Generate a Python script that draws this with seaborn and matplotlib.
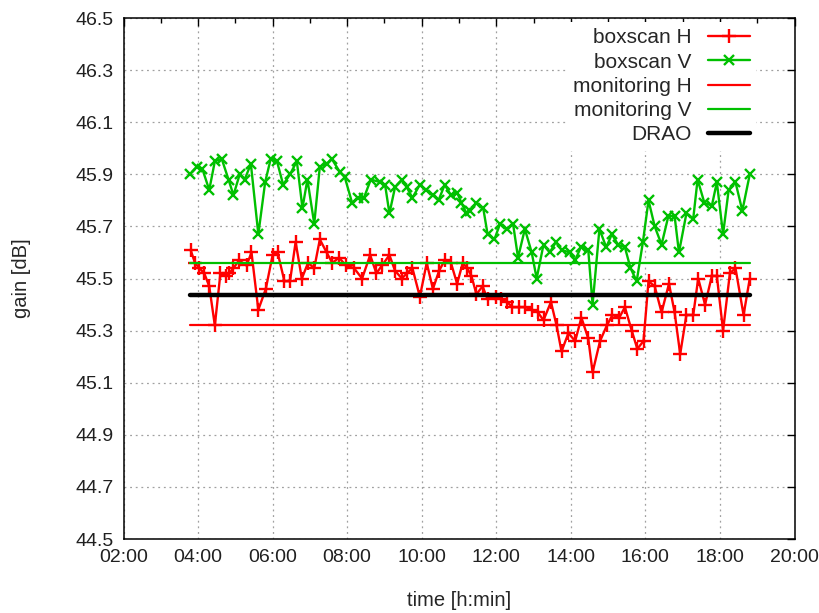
import pandas as pd
import seaborn as sns
import matplotlib.pyplot as plt
from matplotlib.ticker import MultipleLocator, FixedLocator, FuncFormatter

# boxscan V (green, x markers)
times_v = ["03:47", "03:58", "04:07", "04:18", "04:27", "04:38", "04:49", "04:57",
           "05:07", "05:15", "05:25", "05:37", "05:48", "05:57", "06:07", "06:17",
           "06:28", "06:39", "06:48", "06:56", "07:07", "07:16", "07:27", "07:35",
           "07:48", "07:56", "08:08", "08:18", "08:27", "08:38", "08:53", "09:01",
           "09:08", "09:17", "09:28", "09:36", "09:45", "09:57", "10:07", "10:18",
           "10:27", "10:37", "10:47", "10:57", "11:04", "11:12", "11:18", "11:28",
           "11:39", "11:46", "11:57", "12:06", "12:17", "12:27", "12:35", "12:46",
           "12:57", "13:05", "13:16", "13:26", "13:36", "13:45", "13:58", "14:07",
           "14:16", "14:28", "14:35", "14:46", "14:57", "15:06", "15:16", "15:27",
           "15:36", "15:46", "15:56", "16:05", "16:15", "16:26", "16:37", "16:47",
           "16:54", "17:06", "17:17", "17:24", "17:35", "17:47", "17:55", "18:05",
           "18:14", "18:25", "18:36", "18:48"]
gain_v = [45.90, 45.93, 45.92, 45.84, 45.95, 45.96, 45.88, 45.82,
          45.90, 45.88, 45.94, 45.67, 45.87, 45.96, 45.95, 45.86,
          45.90, 45.95, 45.77, 45.88, 45.71, 45.93, 45.94, 45.96,
          45.91, 45.89, 45.79, 45.81, 45.81, 45.88, 45.87, 45.86,
          45.75, 45.85, 45.88, 45.85, 45.81, 45.86, 45.84, 45.82,
          45.80, 45.86, 45.82, 45.83, 45.79, 45.75, 45.76, 45.79,
          45.77, 45.67, 45.65, 45.71, 45.69, 45.71, 45.58, 45.69,
          45.60, 45.50, 45.63, 45.60, 45.64, 45.61, 45.60, 45.57,
          45.62, 45.61, 45.40, 45.69, 45.62, 45.67, 45.63, 45.62,
          45.54, 45.49, 45.64, 45.80, 45.70, 45.63, 45.74, 45.74,
          45.60, 45.75, 45.73, 45.88, 45.79, 45.78, 45.87, 45.67,
          45.84, 45.87, 45.76, 45.90]

# boxscan H (red, + markers)
times_h = ["03:48", "03:55", "04:02", "04:10", "04:18", "04:27", "04:36", "04:45",
           "04:50", "04:57", "05:06", "05:18", "05:26", "05:37", "05:49", "06:00",
           "06:08", "06:19", "06:28", "06:37", "06:47", "06:57", "07:07", "07:16",
           "07:27", "07:36", "07:47", "07:58", "08:11", "08:24", "08:37", "08:47",
           "08:56", "09:08", "09:17", "09:28", "09:36", "09:45", "09:57", "10:08",
           "10:18", "10:28", "10:37", "10:47", "10:57", "11:06", "11:13", "11:20",
           "11:28", "11:38", "11:46", "11:59", "12:08", "12:17", "12:26", "12:37",
           "12:47", "12:58", "13:07", "13:16", "13:28", "13:37", "13:45", "13:56",
           "14:07", "14:17", "14:28", "14:35", "14:47", "14:58", "15:07", "15:18",
           "15:27", "15:38", "15:47", "15:57", "16:05", "16:15", "16:26", "16:38",
           "16:47", "16:56", "17:06", "17:17", "17:25", "17:36", "17:47", "17:55",
           "18:05", "18:16", "18:25", "18:38", "18:48"]
gain_h = [45.61, 45.56, 45.54, 45.52, 45.47, 45.32, 45.52, 45.51,
          45.52, 45.54, 45.57, 45.55, 45.60, 45.38, 45.46, 45.59,
          45.60, 45.49, 45.49, 45.64, 45.50, 45.56, 45.54, 45.65,
          45.60, 45.56, 45.58, 45.55, 45.54, 45.50, 45.59, 45.52,
          45.55, 45.59, 45.53, 45.50, 45.52, 45.54, 45.43, 45.56,
          45.46, 45.53, 45.57, 45.56, 45.48, 45.56, 45.54, 45.51,
          45.44, 45.47, 45.42, 45.43, 45.42, 45.41, 45.39, 45.39,
          45.39, 45.38, 45.37, 45.34, 45.41, 45.32, 45.22, 45.29,
          45.26, 45.35, 45.27, 45.14, 45.26, 45.32, 45.36, 45.35,
          45.39, 45.30, 45.23, 45.26, 45.49, 45.47, 45.37, 45.48,
          45.37, 45.21, 45.36, 45.36, 45.50, 45.40, 45.51, 45.51,
          45.30, 45.52, 45.54, 45.36, 45.50]

# constant reference levels
level_span = ["03:47", "18:48"]
monitoring_h = 45.32
monitoring_v = 45.56
drao = 45.435

y_ticks = [44.5, 44.7, 44.9, 45.1, 45.3, 45.5, 45.7, 45.9, 46.1, 46.3, 46.5]

RED = "#ff0000"
GREEN = "#00c000"


def to_hours(t):
    h, m = t.split(":")
    return int(h) + int(m) / 60


df_h = pd.DataFrame({"time": [to_hours(t) for t in times_h], "gain": gain_h})
df_v = pd.DataFrame({"time": [to_hours(t) for t in times_v], "gain": gain_v})
span = [to_hours(t) for t in level_span]

sns.set_theme(style="white")
plt.rcParams["font.family"] = ["Liberation Sans", "DejaVu Sans"]

fig = plt.figure(figsize=(8.19, 6.13), dpi=100)
ax = fig.add_axes([0.1508, 0.1207, 0.8193, 0.8499])

sns.lineplot(data=df_h, x="time", y="gain", ax=ax, color=RED, marker="+",
             markersize=10, markeredgewidth=1.7, markeredgecolor=RED,
             linewidth=1.7, estimator=None, sort=False, label="boxscan H")
sns.lineplot(data=df_v, x="time", y="gain", ax=ax, color=GREEN, marker="x",
             markersize=7, markeredgewidth=1.7, markeredgecolor=GREEN,
             linewidth=1.7, estimator=None, sort=False, label="boxscan V")
sns.lineplot(x=span, y=[monitoring_h] * 2, ax=ax, color=RED, linewidth=1.6,
             label="monitoring H")
sns.lineplot(x=span, y=[monitoring_v] * 2, ax=ax, color=GREEN, linewidth=1.6,
             label="monitoring V")
sns.lineplot(x=span, y=[drao] * 2, ax=ax, color="black", linewidth=3.2,
             label="DRAO")

ax.set_xlim(2, 20)
ax.set_ylim(44.5, 46.5)
ax.xaxis.set_major_locator(MultipleLocator(2))
ax.xaxis.set_minor_locator(MultipleLocator(1))
ax.yaxis.set_major_locator(FixedLocator(y_ticks))
ax.xaxis.set_major_formatter(FuncFormatter(lambda v, p: f"{int(round(v)):02d}:00"))
ax.yaxis.set_major_formatter(FuncFormatter(lambda v, p: f"{v:.1f}"))

ax.grid(True, which="major", color="#a0a0a0", linestyle=(0, (1.5, 3)), linewidth=0.9)
ax.set_axisbelow(True)
for s in ax.spines.values():
    s.set_color("black")
    s.set_linewidth(1.1)
ax.tick_params(which="both", direction="in", top=True, right=True, color="black")
ax.tick_params(which="major", length=6, width=1, pad=7)
ax.tick_params(which="minor", length=3.5, width=1)
for lab in ax.get_xticklabels() + ax.get_yticklabels():
    lab.set_fontsize(14)
    lab.set_color("#202020")

ax.set_xlabel("time [h:min]", fontsize=14.5, labelpad=18)
ax.set_ylabel("gain [dB]", fontsize=14.5, labelpad=32)

leg = ax.legend(loc="upper right", bbox_to_anchor=(0.943, 0.992), borderaxespad=0,
                markerfirst=False, frameon=True, facecolor="white", edgecolor="none",
                framealpha=1, fancybox=False, fontsize=15, handlelength=2.0,
                handletextpad=0.8, labelspacing=0.25, borderpad=0.3)
for col in leg._legend_handle_box.get_children():
    col.align = "right"

plt.savefig("out.png", dpi=100)
